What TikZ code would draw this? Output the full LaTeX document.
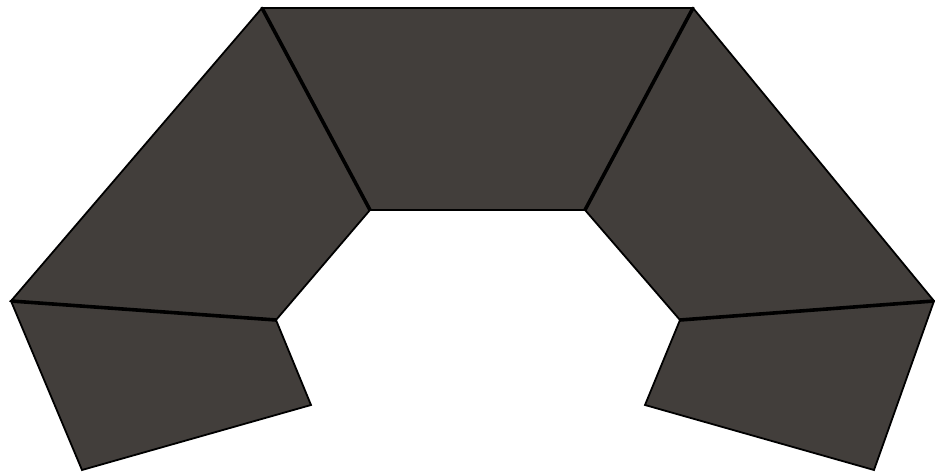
\documentclass[tikz,border=0pt]{standalone}
\definecolor{slab}{HTML}{423E3B}
\begin{document}
\begin{tikzpicture}[x=1pt,y=-1pt,
  piece/.style={fill=slab,draw=black,line width=1.8pt,line join=miter},
  seam/.style={draw=black,line width=3.6pt}]
\useasboundingbox (0,0) rectangle (935,473);
\coordinate (tl) at (262,8);
\coordinate (tr) at (693,8);
\coordinate (il) at (370,210);
\coordinate (ir) at (585,210);
\coordinate (ml) at (11,301);
\coordinate (mr) at (934,301);
\coordinate (kl) at (276,320);
\coordinate (kr) at (680,320);
\coordinate (bl) at (82,470);
\coordinate (br) at (874,470);
\coordinate (el) at (311,405);
\coordinate (er) at (645,405);
\path[piece] (tl) -- (tr) -- (ir) -- (il) -- cycle;
\path[piece] (tl) -- (il) -- (kl) -- (ml) -- cycle;
\path[piece] (ml) -- (kl) -- (el) -- (bl) -- cycle;
\path[piece] (tr) -- (mr) -- (kr) -- (ir) -- cycle;
\path[piece] (kr) -- (mr) -- (br) -- (er) -- cycle;
\draw[seam] (tl) -- (il);
\draw[seam] (tr) -- (ir);
\draw[seam] (ml) -- (kl);
\draw[seam] (mr) -- (kr);
\end{tikzpicture}
\end{document}
